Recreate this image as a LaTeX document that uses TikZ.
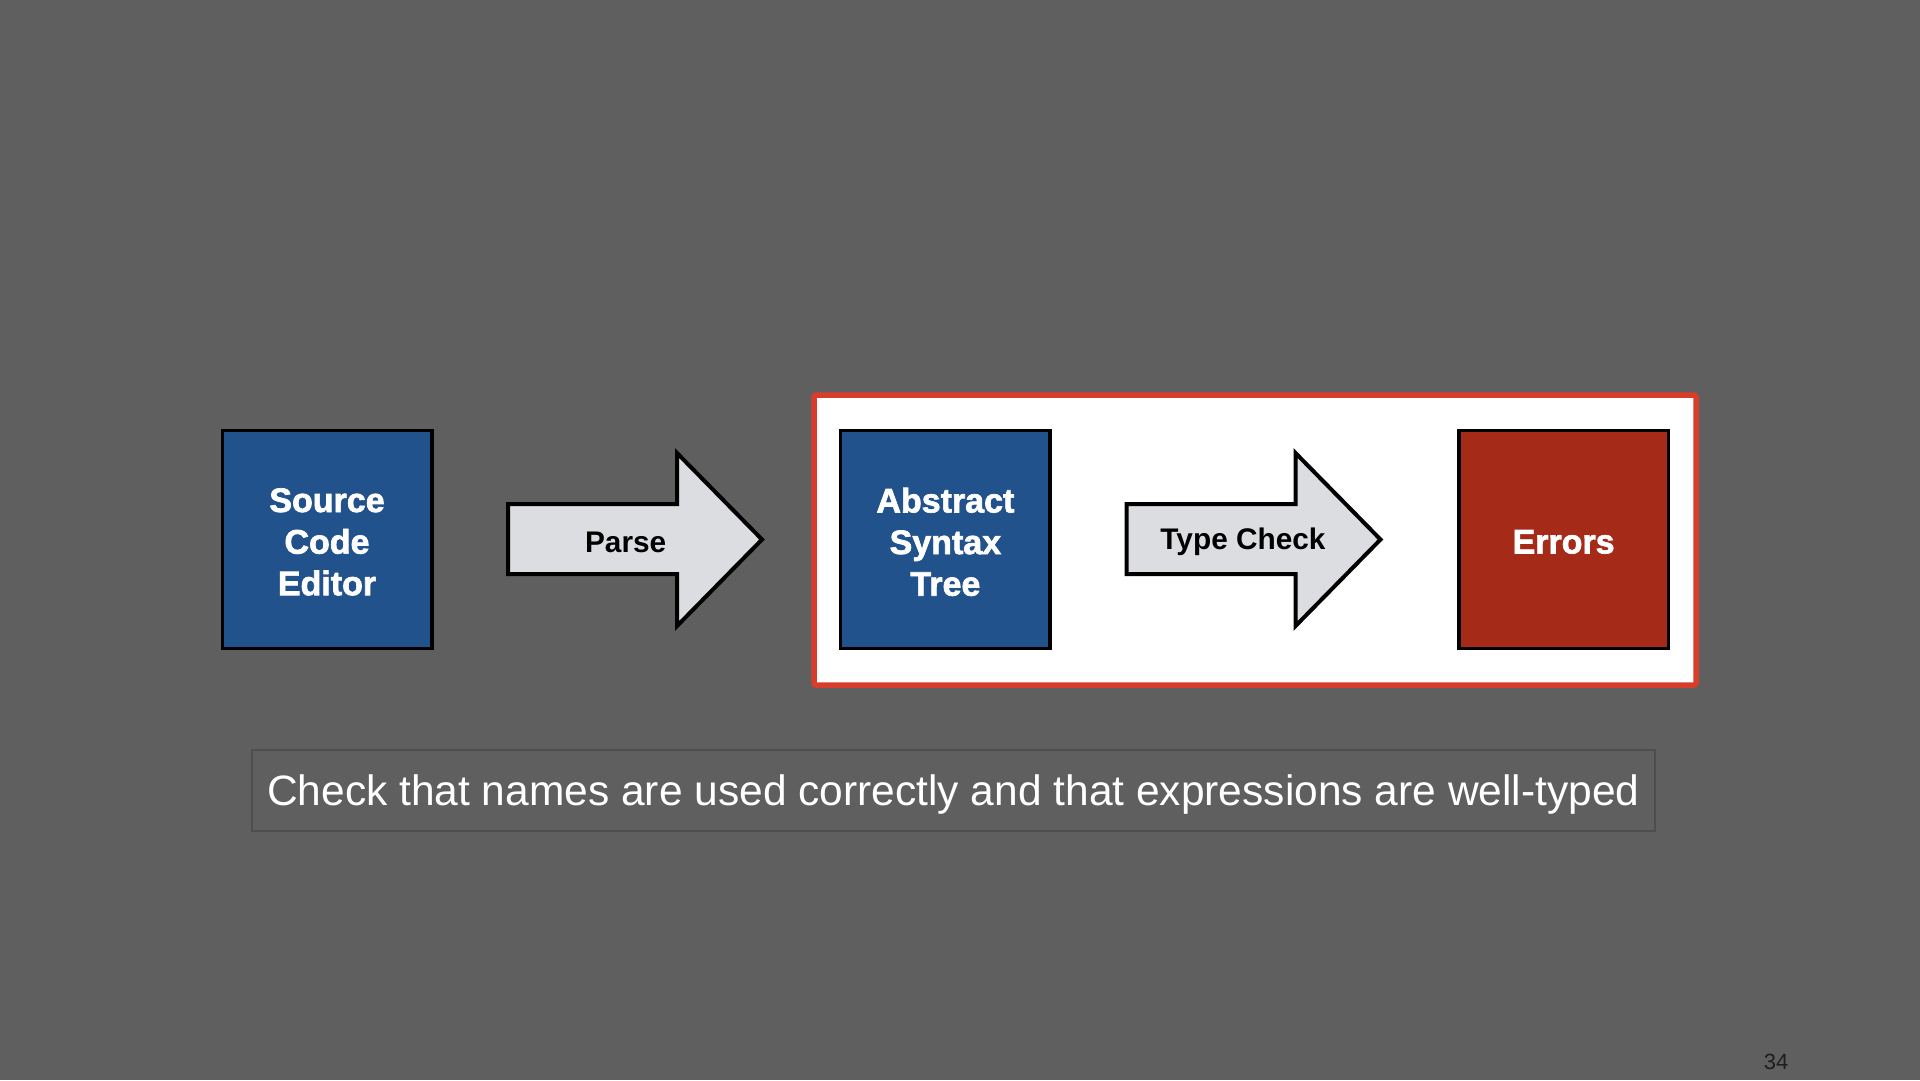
\documentclass[tikz,border=0pt]{standalone}
\usepackage{fontspec}
\setmainfont{Liberation Sans}
\newfontfamily\heavyfont[FakeBold=2]{Liberation Sans Bold}
\definecolor{bg}{HTML}{5F5F5F}
\definecolor{boxblue}{HTML}{22528C}
\definecolor{boxred}{HTML}{A52A18}
\definecolor{arrowfill}{HTML}{DCDDE0}
\definecolor{framered}{HTML}{D83C2A}
\definecolor{capborder}{HTML}{4E4E4E}
\definecolor{pagenum}{HTML}{1E1E1E}
\tikzset{
  stagebox/.style={draw=black, line width=3.5pt, minimum width=209.5pt, minimum height=218pt, inner sep=0pt},
  stagetext/.style={inner sep=0pt, align=center, text=white, font=\heavyfont\fontsize{34}{41.6}\selectfont},
  bigarrow/.style={draw=black, line width=4pt, fill=arrowfill, line join=miter},
  arrowlabel/.style={text=black, font=\bfseries\fontsize{29.8}{34}\selectfont, inner sep=0pt}
}
\begin{document}
\begin{tikzpicture}[x=1pt,y=-1pt]
\useasboundingbox[fill=bg] (0,0) rectangle (1920,1080);
% white frame
\node[draw=framered, fill=white, line width=5.5pt, rounded corners=2pt, minimum width=882pt, minimum height=290pt, inner sep=0pt] (frame) at (1255,540) {};
% boxes
\node[stagebox, fill=boxblue] (src) at (327,539.4) {};
\node[stagebox, fill=boxblue] (ast) at (945.4,539.4) {};
\node[stagebox, fill=boxred] (err) at (1563.6,539.4) {};
\node[stagetext] (srct) at ([yshift=-2.5pt]src.center) {Source\\Code\\Editor};
\node[stagetext] (astt) at ([yshift=-2.5pt]ast.center) {Abstract\\Syntax\\Tree};
\node[stagetext] (errt) at ([yshift=-2.5pt]err.center) {Errors};
% Parse arrow
\draw[bigarrow] (508,504) -- (677,504) -- (677,453) -- (762,539.5) -- (677,626) -- (677,574) -- (508,574) -- cycle;
\node[arrowlabel] (parse) at (625.7,542) {Parse};
% Type check arrow
\draw[bigarrow] (1126.5,504) -- (1295.5,504) -- (1295.5,453) -- (1380.5,539.5) -- (1295.5,626) -- (1295.5,574) -- (1126.5,574) -- cycle;
\node[arrowlabel] (tc) at (1243,542) {Type Check};
% caption
\node[draw=capborder, line width=1.5pt, minimum width=1403pt, minimum height=81pt, inner sep=0pt] (cap) at (953.3,790.4) {};
\node[text=white, font=\fontsize{42.5}{50}\selectfont, inner sep=0pt] (capt) at ([yshift=-4.5pt]cap.center) {Check that names are used correctly and that expressions are well-typed};
% page number
\node[text=pagenum, font=\fontsize{22}{26}\selectfont, inner sep=0pt] (pg) at (1776,1062) {34};
\end{tikzpicture}
\end{document}
